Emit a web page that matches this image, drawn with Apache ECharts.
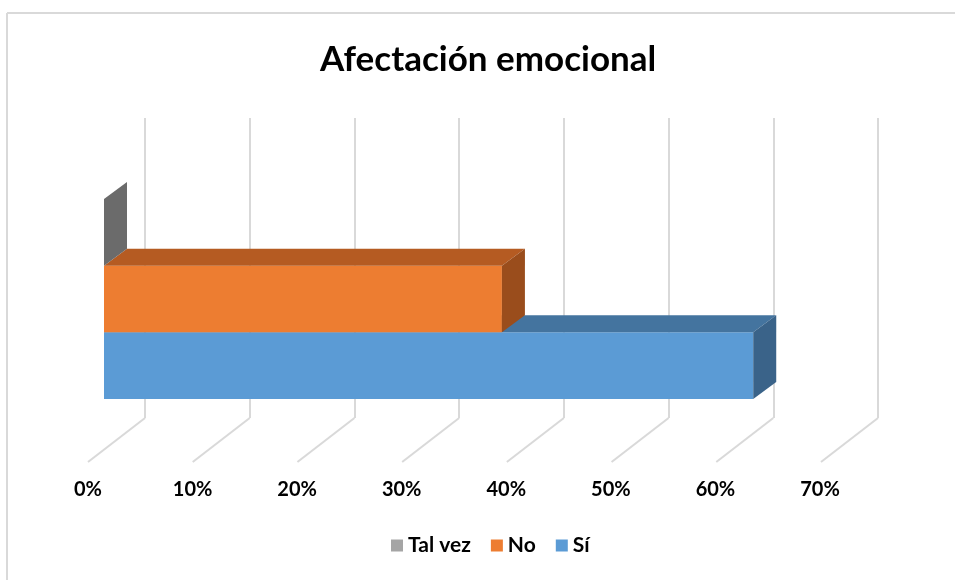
<!DOCTYPE html>
<html>
<head>
<meta charset="utf-8">
<script src="https://cdn.jsdelivr.net/npm/echarts@6/dist/echarts.min.js"></script>
<style>
  html, body { margin: 0; padding: 0; background: #fff; }
  #chartDiv { width: 955px; height: 580px; }
</style>
</head>
<body>
<div id="chartDiv"></div>
<script>
// datos del gráfico
var seriesNames = ['Tal vez', 'No', 'Sí'];
var seriesValues = [0, 0.38, 0.62];
var tickValues = [0, 0.1, 0.2, 0.3, 0.4, 0.5, 0.6, 0.7];

// colores: cara frontal, cara superior, cara lateral
var faceColors = [
    ['#a5a5a5', '#8a8a8a', '#6b6b6b'],
    ['#ed7d31', '#b55b22', '#9a4d1c'],
    ['#5b9bd5', '#44749f', '#3a6389']
];

var FONT = 'Lato';
// desplazamiento de profundidad (pared del fondo -> plano frontal)
var FLOOR_DX = -57, FLOOR_DY = 44;
var FRONT_DX = -41, FRONT_DY = 31;
var BACK_DX = -18, BACK_DY = 14;

function barRender(slot, colors) {
    return function (params, api) {
        var p0 = api.coord([0, api.value(1)]);
        var p1 = api.coord([api.value(0), api.value(1)]);
        var band = api.size([0, 1])[1];
        var h = band * 0.2222;
        var top = p0[1] + (slot - 1.5) * h;
        var fx0 = p0[0] + FRONT_DX, fx1 = p1[0] + FRONT_DX, fy = top + FRONT_DY;
        var bx1 = p1[0] + BACK_DX, bx0 = p0[0] + BACK_DX, by = top + BACK_DY;
        return {
            type: 'group',
            children: [
                {
                    type: 'rect',
                    shape: { x: fx0, y: fy, width: fx1 - fx0, height: h },
                    style: { fill: colors[0] }
                },
                {
                    type: 'polygon',
                    shape: { points: [[fx0, fy], [fx1, fy], [bx1, by], [bx0, by]] },
                    style: { fill: colors[1] }
                },
                {
                    type: 'polygon',
                    shape: { points: [[fx1, fy], [bx1, by], [bx1, by + h], [fx1, fy + h]] },
                    style: { fill: colors[2] }
                }
            ]
        };
    };
}

var myChart = echarts.init(document.getElementById('chartDiv'));

var series = [{
    name: 'suelo',
    type: 'custom',
    xAxisIndex: 0,
    yAxisIndex: 0,
    silent: true,
    z: 1,
    data: tickValues.map(function (v) { return [v, 0]; }),
    renderItem: function (params, api) {
        var p = api.coord([api.value(0), 0]);
        var yb = params.coordSys.y + params.coordSys.height;
        return {
            type: 'line',
            shape: { x1: p[0], y1: yb, x2: p[0] + FLOOR_DX, y2: yb + FLOOR_DY },
            style: { stroke: '#d9d9d9', lineWidth: 2 }
        };
    }
}];

seriesNames.forEach(function (name, i) {
    series.push({
        name: name,
        type: 'custom',
        xAxisIndex: 0,
        yAxisIndex: 0,
        z: 10 - i,
        itemStyle: { color: faceColors[i][0] },
        data: [[seriesValues[i], 0]],
        encode: { x: 0, y: 1 },
        renderItem: barRender(i, faceColors[i])
    });
});

var option = {
    animation: false,
    backgroundColor: '#fff',
    title: {
        text: 'Afectación emocional',
        left: 315,
        top: 37,
        textStyle: { fontFamily: FONT, fontSize: 35, fontWeight: 'bold', color: '#000' }
    },
    legend: {
        data: seriesNames,
        bottom: 19,
        left: 386,
        icon: 'rect',
        itemWidth: 12,
        itemHeight: 12,
        itemGap: 20,
        textStyle: { fontFamily: FONT, fontSize: 21, fontWeight: 'bold', color: '#000' }
    },
    graphic: [
        { type: 'line', shape: { x1: 7, y1: 13, x2: 955, y2: 13 }, style: { stroke: '#d9d9d9', lineWidth: 2 } },
        { type: 'line', shape: { x1: 7, y1: 13, x2: 7, y2: 580 }, style: { stroke: '#d9d9d9', lineWidth: 2 } }
    ],
    grid: [
        { left: 145, right: 77, top: 118, bottom: 162 },
        { left: 88, right: 135, top: 118, bottom: 118 }
    ],
    xAxis: [{
        gridIndex: 0,
        type: 'value',
        min: 0,
        max: 0.7,
        interval: 0.1,
        axisLine: { show: false },
        axisTick: { show: false },
        axisLabel: { show: false },
        splitLine: { show: true, lineStyle: { color: '#d9d9d9', width: 2 } }
    }, {
        gridIndex: 1,
        type: 'value',
        min: 0,
        max: 0.7,
        interval: 0.1,
        axisLine: { show: false },
        axisTick: { show: false },
        splitLine: { show: false },
        axisLabel: {
            margin: 18,
            fontFamily: FONT,
            fontSize: 20,
            fontWeight: 'bold',
            color: '#000',
            formatter: function (v) { return Math.round(v * 100) + '%'; }
        }
    }],
    yAxis: [{
        gridIndex: 0,
        type: 'category',
        data: [''],
        show: false
    }, {
        gridIndex: 1,
        type: 'category',
        data: [''],
        show: false
    }],
    series: series
};

myChart.setOption(option);
</script>
</body>
</html>
